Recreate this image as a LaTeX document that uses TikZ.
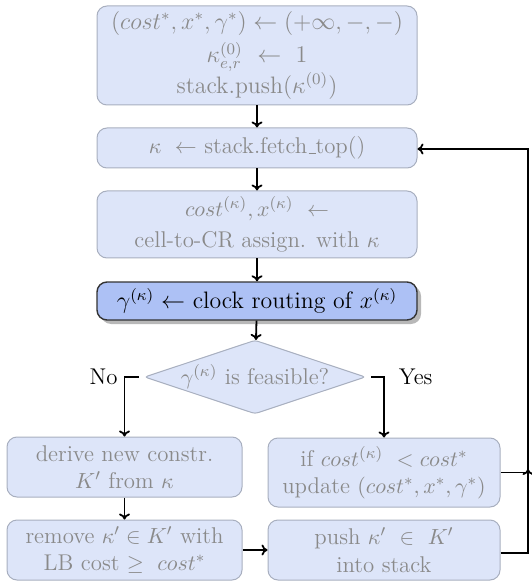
\documentclass[tikz,border=0pt]{standalone}
\usetikzlibrary{shapes.geometric,shadows,arrows.meta}
\definecolor{stepfill}{HTML}{DDE5F9}
\definecolor{stepline}{HTML}{A8AFBF}
\definecolor{steptext}{HTML}{8A8A8A}
\definecolor{keyfill}{HTML}{ADC1F5}
\definecolor{keyline}{HTML}{333333}
\newcommand{\flowfont}{\fontsize{11.4}{13.7}\selectfont}
\newcommand{\bigflowfont}{\fontsize{11.9}{14.3}\selectfont}
\newcommand{\lowbar}{\kern.06em\rule{.3em}{.4pt}}
\tikzset{
  stepbox/.style={draw=stepline, fill=stepfill, text=steptext, rounded corners=5pt,
    line width=0.5pt, align=center, inner sep=2pt, font=\flowfont},
  keybox/.style={draw=keyline, fill=keyfill, text=black, rounded corners=5pt,
    line width=0.7pt, align=center, inner sep=2pt, font=\bigflowfont,
    drop shadow={shadow xshift=2pt, shadow yshift=-2pt, fill=black!28, opacity=1}},
  testbox/.style={diamond, aspect=3, draw=stepline, fill=stepfill, text=steptext,
    rounded corners=1.5pt, line width=0.5pt, inner sep=0pt, font=\flowfont},
  flow/.style={-{To[length=3pt,width=5.5pt]}, line width=0.9pt, black},
  lbl/.style={font=\flowfont, text=black, inner sep=3pt}
}
\begin{document}
\begin{tikzpicture}[x=0.5pt, y=-0.5pt]
\useasboundingbox (0,0) rectangle (531,582);

\node[stepbox, font=\bigflowfont, minimum width=160pt, minimum height=49.5pt] (init) at (257,55.5)
  {$(cost^{*}, x^{*}, \gamma^{*}) \leftarrow (+\infty, -, -)$\\[2.5pt]
   $\kappa^{(0)}_{e,r} \ \leftarrow\ 1$\\[-0.5pt]
   stack.push($\kappa^{(0)}$)};
\node[stepbox, minimum width=160pt, minimum height=20pt] (fetch) at (257,148)
  {$\kappa\ \leftarrow$ stack.fetch\lowbar top()};
\node[stepbox, minimum width=160pt, minimum height=33.5pt] (assign) at (257,224.5)
  {$cost^{(\kappa)}, x^{(\kappa)}\ \leftarrow$\\[2pt] cell-to-CR assign. with $\kappa$};
\node[keybox, minimum width=160pt, minimum height=19pt] (route) at (257,301)
  {$\gamma^{(\kappa)} \leftarrow$ clock routing of $x^{(\kappa)}$};
\node[testbox, minimum width=109pt, minimum height=36pt] (feas) at (255,377)
  {$\gamma^{(\kappa)}$ is feasible?};
\node[stepbox, minimum width=117.5pt, minimum height=30pt] (derive) at (124.5,467)
  {derive new constr.\\ $K'$ from $\kappa$};
\node[stepbox, minimum width=116pt, minimum height=34.5pt] (update) at (384,472.5)
  {if $cost^{(\kappa)}\ < cost^{*}$\\ update $(cost^{*}, x^{*}, \gamma^{*})$};
\node[stepbox, minimum width=117.5pt, minimum height=30pt] (prune) at (124.5,550)
  {remove $\kappa' \in K'$ with\\ LB cost $\geq\ cost^{*}$};
\node[stepbox, minimum width=116pt, minimum height=30pt] (push) at (384,550)
  {push $\kappa'\ \in\ K'$\\ into stack};

\coordinate (loopbot) at (528,553);
\coordinate (looptop) at (528,149);
\coordinate (join) at (528,469);

\draw[flow] (init) -- (fetch);
\draw[flow] (fetch) -- (assign);
\draw[flow] (assign) -- (route);
\draw[flow] (route) -- (feas);
\draw[flow, shorten <=2.5pt] (feas.west) -| node[lbl, pos=0.5, left=0pt] {No} (derive.north);
\draw[flow, shorten <=2.5pt] (feas.east) -| node[lbl, pos=0.5, right=4pt] {Yes} (update.north);
\draw[flow] (derive) -- (prune);
\draw[flow] (prune.east) -- (prune.east -| push.west);
\draw[flow] (push.east |- loopbot) -- (loopbot) -- (looptop) -- (looptop -| fetch.east);
\draw[flow] (update.east) -| (join);
\end{tikzpicture}
\end{document}
